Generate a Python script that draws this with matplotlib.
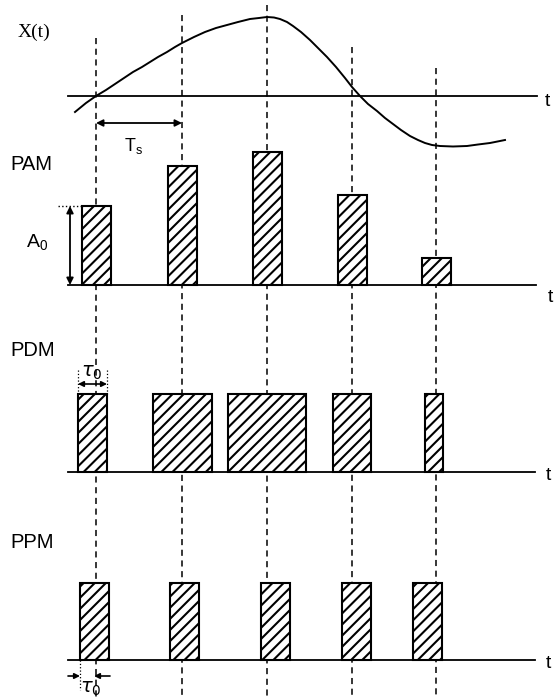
import matplotlib
matplotlib.use('Agg')
import matplotlib.pyplot as plt
from matplotlib.patches import Rectangle

plt.rcParams['hatch.linewidth'] = 1.5

# sampling instants (pixel x) and top of each dashed marker line
sample_x = [96, 182, 267, 352, 436]
dash_top = [38, 15, 5, 47, 68]

# analog signal x(t) (x, y pixels)
signal_x = [75, 86, 96, 106, 115, 124, 133, 142, 150, 158, 167, 175, 182, 194, 205,
            216, 227, 238, 250, 259, 267, 274, 280, 287, 293, 301, 310, 318, 327,
            336, 345, 352, 360, 368, 377, 385, 393, 401, 410, 418, 425, 432, 440,
            453, 467, 478, 490, 505]
signal_y = [112, 103, 96, 90, 84, 78, 72, 67, 62, 57, 52, 47, 43, 37, 32,
            28, 25, 22, 19, 18, 17, 17.5, 19, 22, 26, 32, 40, 48, 57,
            67, 78, 87, 96, 104, 111, 118, 124, 130, 136, 140, 143, 145, 146,
            146.5, 146, 144.5, 143, 140]

# PAM pulse heights
pam_height = [79, 119, 133, 90, 27]
pam_width = 29
# PDM pulse widths and left edges relative to the sample instant
pdm_width = [29, 59, 78, 38, 18]
pdm_left = [-18, -29, -39, -19, -11]
pdm_height = 78
# PPM pulse left edges relative to the sample instant
ppm_left = [-16, -12, -6, -10, -23]
ppm_width = 29
ppm_height = 77

axis_y = 96
pam_base = 285
pdm_base = 472
ppm_base = 660

fig = plt.figure(figsize=(5.55, 6.98), dpi=100)
ax = fig.add_axes([0, 0, 1, 1])
ax.set_xlim(0, 555)
ax.set_ylim(698, 0)
ax.axis('off')

# dashed sample lines (behind the pulses)
for x, top in zip(sample_x, dash_top):
    ax.plot([x, x], [top, 698], color='black', lw=1.1, ls=(0, (4, 3)), zorder=1)

# signal
ax.plot([68, 537], [axis_y, axis_y], color='black', lw=1.3)
ax.plot(signal_x, signal_y, color='black', lw=1.4)
ax.text(18, 32, 'X(t)', fontsize=14, family='Liberation Serif', va='center')
ax.text(545, 101, 't', fontsize=14, family='Liberation Sans', va='center')
ax.annotate('', xy=(sample_x[0], 123), xytext=(sample_x[1], 123),
            arrowprops=dict(arrowstyle='<|-|>', color='black', lw=1.3, mutation_scale=10, shrinkA=0, shrinkB=0))
ax.text(124, 146, r'T$_\mathregular{s}$', fontsize=13, family='Liberation Sans', va='center')


def bar(x0, w, base, h):
    ax.add_patch(Rectangle((x0, base - h), w, h, facecolor='white', edgecolor='black',
                           lw=1.5, hatch='///', zorder=3))


# PAM
ax.text(10, 165, 'PAM', fontsize=14.5, family='Liberation Sans', va='center')
ax.plot([68, 536], [pam_base, pam_base], color='black', lw=1.3, zorder=2)
for x, h in zip(sample_x, pam_height):
    bar(x - 14, pam_width, pam_base, h)
ax.text(548, 298, 't', fontsize=14, family='Liberation Sans', va='center')
ax.plot([58, 82], [pam_base - pam_height[0]] * 2, color='black', lw=1, ls=':')
ax.annotate('', xy=(70, pam_base - pam_height[0]), xytext=(70, pam_base),
            arrowprops=dict(arrowstyle='<|-|>', color='black', lw=1.3, mutation_scale=10, shrinkA=0, shrinkB=0))
ax.text(26, 243, r'A$_\mathregular{0}$', fontsize=14, family='Liberation Sans', va='center')

# PDM
ax.text(10, 350, 'PDM', fontsize=14.5, family='Liberation Sans', va='center')
ax.plot([68, 535], [pdm_base, pdm_base], color='black', lw=1.3, zorder=2)
for x, off, w in zip(sample_x, pdm_left, pdm_width):
    bar(x + off, w, pdm_base, pdm_height)
ax.text(546, 476, 't', fontsize=14, family='Liberation Sans', va='center')
l0 = sample_x[0] + pdm_left[0]
r0 = l0 + pdm_width[0]
for xx in (l0, r0):
    ax.plot([xx, xx], [370, pdm_base - pdm_height], color='black', lw=0.9, ls=':')
ax.annotate('', xy=(l0, 384), xytext=(r0, 384),
            arrowprops=dict(arrowstyle='<|-|>', color='black', lw=1.2, mutation_scale=8, shrinkA=0, shrinkB=0))
ax.text(92, 372, r'$\tau_\mathregular{0}$', fontsize=14, ha='center', va='center')

# PPM
ax.text(10, 542, 'PPM', fontsize=14.5, family='Liberation Sans', va='center')
ax.plot([68, 535], [ppm_base, ppm_base], color='black', lw=1.3, zorder=2)
for x, off in zip(sample_x, ppm_left):
    bar(x + off, ppm_width, ppm_base, ppm_height)
ax.text(546, 664, 't', fontsize=14, family='Liberation Sans', va='center')
p0 = sample_x[0] + ppm_left[0]
ax.plot([p0, p0], [ppm_base, 690], color='black', lw=0.9, ls=':')
ax.annotate('', xy=(p0, 676), xytext=(68, 676),
            arrowprops=dict(arrowstyle='-|>', color='black', lw=1.2, mutation_scale=8, shrinkA=0, shrinkB=0))
ax.annotate('', xy=(sample_x[0] - 2, 676), xytext=(110, 676),
            arrowprops=dict(arrowstyle='-|>', color='black', lw=1.2, mutation_scale=8, shrinkA=0, shrinkB=0))
ax.text(91, 689, r'$\tau_\mathregular{0}$', fontsize=14, ha='center', va='center')

fig.savefig('out.png', dpi=100)
